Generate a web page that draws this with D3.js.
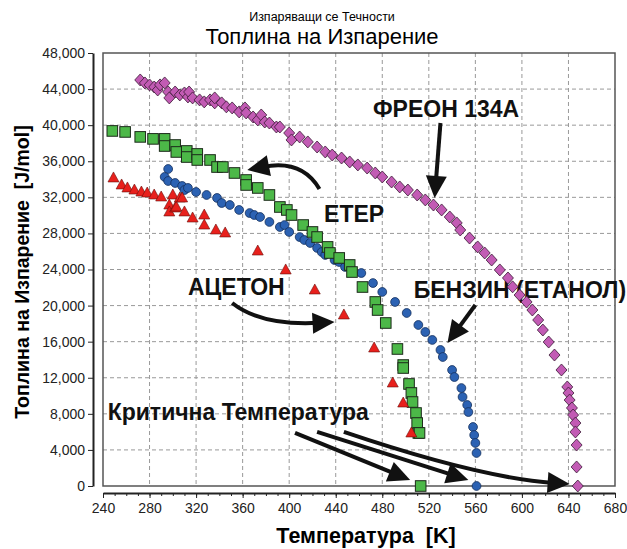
<!DOCTYPE html>
<html lang="bg">
<head>
<meta charset="UTF-8">
<title>Топлина на Изпарение</title>
<script src="https://d3js.org/d3.v7.min.js"></script>
<style>
    body { margin: 0; background: #fff; }
    svg { font-family: "Liberation Sans", Arial, sans-serif; }
    .tick text { font-size: 14px; fill: #222; }
    .tick line, .domain { stroke: #222; }
    .grid line { stroke: #999; stroke-dasharray: 4,3; stroke-width: 1; }
    .note { font-weight: bold; fill: #111; }
</style>
</head>
<body>
<svg width="627" height="549"></svg>
<script>
    // values: [T in K, heat of vaporization in J/mol]
    const freon = [
        [272, 45010], [276, 44680], [280, 44460], [284, 44230], [287, 43900], [289, 44460],
        [293, 44680], [296, 43680], [297, 43020], [302, 43680], [306, 43350], [310, 43570],
        [313, 43130], [314, 43680], [317, 43020], [323, 42800], [327, 42580], [332, 42800],
        [336, 42470], [336, 43020], [342, 42470], [346, 42030], [351, 41910], [357, 41470],
        [362, 41910], [363, 41360], [369, 40910], [373, 40580], [376, 41130], [379, 40350],
        [383, 40240], [389, 39800], [392, 39800], [400, 39130], [402, 38360], [409, 38690],
        [416, 38140], [424, 37580], [431, 37030], [437, 36690], [445, 36360], [452, 35920],
        [459, 35590], [467, 35250], [474, 34700], [480, 34260], [488, 33700], [495, 33150],
        [502, 32810], [510, 32260], [517, 31710], [524, 31150], [531, 30600], [538, 29820],
        [544, 29160], [547, 28380], [555, 27490], [562, 26500], [568, 25830], [574, 25050],
        [581, 23950], [588, 23060], [592, 22080], [598, 21170], [604, 20400], [609, 19510],
        [614, 18400], [618, 17290], [623, 15960], [628, 14520], [634, 12860], [639, 10980],
        [640, 10310], [641, 9530], [643, 8650], [644, 7870], [646, 6980], [646, 5990],
        [647, 4540], [647, 2110], [648, 0]
    ];
    const ether = [
        [248, 39360], [259, 39250], [272, 38700], [283, 38480], [293, 38480], [293, 37690],
        [302, 37800], [303, 37030], [312, 37140], [312, 36470], [321, 36810], [321, 36140],
        [332, 36140], [338, 35360], [343, 35360], [353, 34700], [363, 33920], [363, 33370],
        [373, 33040], [383, 32260], [392, 30930], [398, 30600], [402, 30040], [412, 28930],
        [420, 28160], [424, 27600], [433, 26500], [435, 25830], [443, 25280], [452, 24500],
        [454, 23720], [463, 22060], [474, 20400], [476, 19510], [483, 18070], [493, 15190],
        [498, 13410], [498, 13080], [503, 11310], [505, 10310], [506, 9310], [509, 8090],
        [510, 6980], [511, 5880], [512, 5880], [513, 0]
    ];
    const benzene = [
        [296, 35140], [293, 34260], [296, 33810], [302, 33590], [308, 33260], [310, 32810],
        [313, 33040], [320, 32590], [329, 32260], [338, 31930], [342, 31370], [349, 31150],
        [357, 30600], [366, 30260], [370, 30040], [375, 29820], [383, 29270], [392, 28710],
        [396, 28930], [400, 28160], [409, 27600], [413, 27270], [418, 26940], [424, 26390],
        [428, 25940], [431, 25610], [439, 25050], [443, 24830], [448, 24280], [462, 23610],
        [472, 22500], [480, 21510], [491, 20400], [501, 19180], [511, 17850], [517, 17070],
        [523, 16190], [530, 15080], [532, 14300], [540, 12860], [542, 12080], [548, 10860],
        [549, 9870], [553, 8980], [554, 8200], [558, 6540], [559, 5650], [560, 4770],
        [561, 3660], [561, 0]
    ];
    const acetone = [
        [249, 34150], [256, 33370], [261, 33040], [267, 32810], [273, 32590], [278, 32480],
        [284, 32260], [290, 32040], [297, 31150], [297, 30380], [300, 32260], [302, 30820],
        [303, 30930], [306, 31930], [308, 31930], [310, 30380], [317, 29710], [327, 30040],
        [327, 28930], [337, 28380], [345, 28050], [373, 26050], [397, 23950], [422, 21730],
        [447, 18960], [473, 15300], [489, 11420], [498, 9200], [505, 5880]
    ];

    const xTicks = d3.range(240, 681, 40);
    const yTicks = d3.range(0, 48001, 4000);

    // annotation texts and arrows, placed in data units
    const notes = [
        { text: "ФРЕОН 134А", T: 472, Q: 40900 },
        { text: "ЕТЕР", T: 430, Q: 29270 },
        { text: "АЦЕТОН", T: 313, Q: 21170 },
        { text: "БЕНЗИН (ЕТАНОЛ)", T: 507, Q: 20840 },
        { text: "Критична Температура", T: 244, Q: 7320 }
    ];
    const arrows = [
        [[530, 40240], [525, 31930]],
        [[426, 32930], [411, 36250], [364, 35030]],
        [[351, 20290], [376, 17740], [439, 18180]],
        [[560, 20070], [536, 15850]],
        [[405, 5880], [504, 665]],
        [[424, 5990], [554, 665]],
        [[447, 5990], [564, 887], [641, 222]]
    ];

    const svg = d3.select("svg");
    const x = d3.scaleLinear().domain([240, 680]).range([103, 615]);
    const y = d3.scaleLinear().domain([0, 48000]).range([486, 53]);

    // titles
    svg.append("text").attr("x", 322).attr("y", 21).attr("text-anchor", "middle")
        .style("font-size", "12.5px").text("Изпаряващи се Течности");
    svg.append("text").attr("x", 322).attr("y", 44).attr("text-anchor", "middle")
        .style("font-size", "22px").text("Топлина на Изпарение");

    // grid
    const grid = svg.append("g").attr("class", "grid");
    grid.selectAll(".gx").data(xTicks.slice(1, -1)).join("line")
        .attr("x1", d => x(d)).attr("x2", d => x(d)).attr("y1", y(48000)).attr("y2", y(0));
    grid.selectAll(".gy").data(yTicks.slice(1, -1)).join("line")
        .attr("y1", d => y(d)).attr("y2", d => y(d)).attr("x1", x(240)).attr("x2", x(680));

    // frame
    svg.append("rect").attr("x", x(240)).attr("y", y(48000))
        .attr("width", x(680) - x(240)).attr("height", y(0) - y(48000))
        .attr("fill", "none").attr("stroke", "#555").attr("stroke-width", 1.5);

    // axes, set off from the frame
    svg.append("g").attr("transform", "translate(93,0)")
        .call(d3.axisLeft(y).tickValues(yTicks).tickFormat(d3.format(",")).tickSize(5).tickSizeOuter(0).tickPadding(3))
        .select(".domain").attr("stroke-width", 2);
    svg.append("g").attr("transform", "translate(0,493)")
        .call(d3.axisBottom(x).tickValues(d3.range(240, 681, 10)).tickFormat("").tickSize(3).tickSizeOuter(0))
        .select(".domain").attr("stroke-width", 2);
    svg.append("g").attr("transform", "translate(0,493)")
        .call(d3.axisBottom(x).tickValues(xTicks).tickSize(5).tickSizeOuter(0).tickPadding(5))
        .select(".domain").remove();

    // axis titles
    svg.append("text").attr("x", 366).attr("y", 543).attr("text-anchor", "middle")
        .style("font-size", "21.5px").style("font-weight", "bold").text("Температура\u00a0\u00a0[K]");
    svg.append("text").attr("transform", "translate(29,272) rotate(-90)").attr("text-anchor", "middle")
        .style("font-size", "19.5px").style("font-weight", "bold").text("Топлина на Изпарение\u00a0\u00a0[J/mol]");

    // notes
    svg.append("g").selectAll("text").data(notes).join("text")
        .attr("class", "note")
        .attr("x", d => x(d.T)).attr("y", d => y(d.Q))
        .style("font-size", "23px")
        .text(d => d.text);

    const ag = svg.append("g");
    arrows.forEach(a => {
        const p = a.map(d => [x(d[0]), y(d[1])]);
        const tip = p[p.length - 1], from = p[p.length - 2];
        const dx = tip[0] - from[0], dy = tip[1] - from[1];
        const len = Math.hypot(dx, dy), ux = dx / len, uy = dy / len;
        const L = 22, W = 10.5;
        const bx = tip[0] - ux * L, by = tip[1] - uy * L;
        const path = d3.path();
        path.moveTo(p[0][0], p[0][1]);
        if (p.length === 3) path.quadraticCurveTo(p[1][0], p[1][1], bx + ux * 6, by + uy * 6);
        else path.lineTo(bx + ux * 6, by + uy * 6);
        ag.append("path").attr("d", path.toString())
            .attr("fill", "none").attr("stroke", "#111").attr("stroke-width", 4);
        ag.append("path")
            .attr("d", `M${tip[0]},${tip[1]}L${bx - uy * W},${by + ux * W}L${bx + uy * W},${by - ux * W}Z`)
            .attr("fill", "#111");
    });

    // series
    const pts = svg.append("g");
    pts.selectAll(".fr").data(freon).join("path")
        .attr("transform", d => `translate(${x(d[0])},${y(d[1])})`)
        .attr("d", "M0,-6L5.5,0L0,6L-5.5,0Z")
        .attr("fill", "#c25bb4").attr("stroke", "#3a1a35").attr("stroke-width", 0.8);
    pts.selectAll(".bz").data(benzene).join("circle")
        .attr("cx", d => x(d[0])).attr("cy", d => y(d[1])).attr("r", 4.4)
        .attr("fill", "#2c62b3").attr("stroke", "#132e5c").attr("stroke-width", 0.8);
    pts.selectAll(".et").data(ether).join("rect")
        .attr("x", d => x(d[0]) - 5.3).attr("y", d => y(d[1]) - 5.3).attr("width", 10.6).attr("height", 10.6)
        .attr("fill", "#4cb848").attr("stroke", "#1c2a1a").attr("stroke-width", 1);
    pts.selectAll(".ac").data(acetone).join("path")
        .attr("transform", d => `translate(${x(d[0])},${y(d[1])})`)
        .attr("d", "M0,-6L5.5,4L-5.5,4Z")
        .attr("fill", "#e8201c").attr("stroke", "#6a0d0a").attr("stroke-width", 0.6);
</script>
</body>
</html>
